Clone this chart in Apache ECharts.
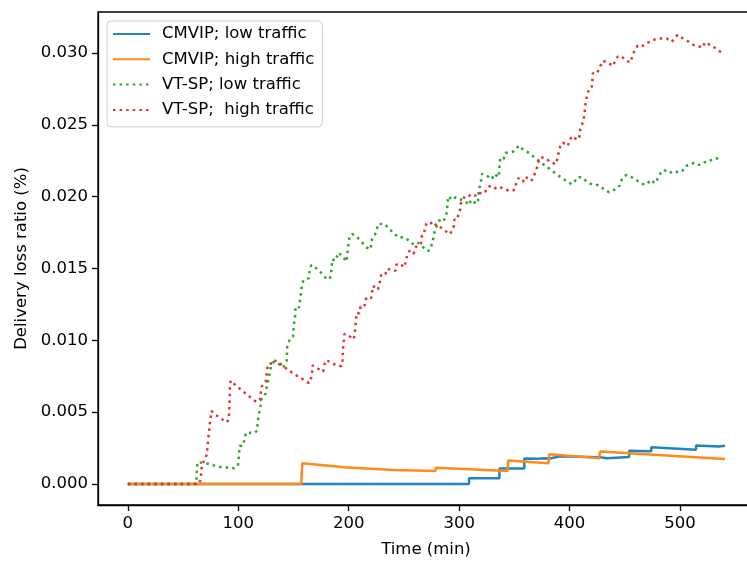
<!DOCTYPE html>
<html>
<head>
<meta charset="utf-8">
<script src="https://cdn.jsdelivr.net/npm/echarts@6/dist/echarts.min.js"></script>
<style>
  html, body { margin: 0; padding: 0; background: #fff; }
  #chart { width: 747px; height: 562px; }
</style>
</head>
<body>
<div id="chart"></div>
<script>
// [time (min), loss ratio]
const cmvipLow = [[0,0],[309,0],[309,0.0004],[336.5,0.0004],[336.5,0.00107],[359,0.00107],[359,0.00177],[372,0.00175],[377,0.00178],[382,0.00177],[382,0.0019],[392,0.00192],[427.5,0.00185],[427.5,0.00178],[434,0.00178],[434,0.0019],[454,0.00188],[454,0.0023],[474,0.00228],[474,0.00255],[514.5,0.00238],[514.5,0.00267],[535,0.0026],[536,0.00265],[540.7,0.00265]];
const cmvipHigh = [[0,0],[157,0],[158,0.00144],[196,0.00116],[240.8,0.00097],[241.3,0.00104],[278.5,0.0009],[279,0.00112],[343.9,0.0009],[344.4,0.00162],[381,0.00144],[381.5,0.00207],[427,0.00179],[427.5,0.00225],[540.7,0.00174]];
const vtspLow = [[0,0],[62,0],[63,0.0015],[66,0.00148],[72.6,0.0014],[78.7,0.00127],[84.7,0.00116],[90.7,0.00114],[96,0.00109],[99.7,0.00125],[100.4,0.0018],[101.3,0.00264],[104.6,0.00267],[105.5,0.00311],[107,0.00357],[108.8,0.00364],[114.2,0.00353],[117.2,0.00371],[117.5,0.00422],[118.7,0.00487],[120.3,0.0055],[121,0.0059],[122.7,0.00612],[124.8,0.0063],[125.7,0.00673],[127.8,0.00742],[129.9,0.00828],[132.3,0.00849],[135.9,0.0084],[140.8,0.0081],[143.8,0.00856],[144.4,0.00956],[146.7,0.01007],[149.5,0.01025],[150.4,0.01114],[151.3,0.01146],[151.9,0.01234],[154.9,0.01227],[156.4,0.01304],[157.9,0.01397],[159.4,0.0142],[164,0.01432],[164.6,0.01478],[166.1,0.01524],[167.9,0.01529],[172.1,0.01494],[176,0.01462],[179.9,0.01427],[182.9,0.01427],[184.2,0.01473],[185.1,0.01564],[188.1,0.01554],[190.5,0.0161],[194.1,0.01587],[198,0.01547],[199.2,0.01633],[200.7,0.01717],[203.2,0.0174],[207.7,0.01717],[212.2,0.0168],[216.1,0.01647],[219.7,0.01633],[221.2,0.01703],[223.6,0.01733],[225.1,0.01756],[226.5,0.01808],[229.4,0.0181],[232.4,0.0181],[236.3,0.01778],[240.8,0.01745],[245.3,0.01714],[249.8,0.01717],[254.3,0.01695],[258.9,0.01666],[261.9,0.0168],[264.4,0.01671],[267.4,0.01647],[271.9,0.01621],[274.6,0.01638],[275.5,0.01685],[277,0.01714],[277.8,0.01758],[279.4,0.01789],[281.5,0.01817],[282.8,0.01846],[286.2,0.01836],[288.3,0.0186],[289,0.01907],[289.6,0.01954],[290,0.02002],[294.1,0.01977],[297,0.01996],[300.4,0.01982],[304.7,0.01972],[309.2,0.01942],[310.7,0.01977],[315.6,0.01949],[317.1,0.01972],[317.6,0.02023],[318.5,0.02065],[319.8,0.0211],[320.7,0.02158],[325.2,0.02144],[329.7,0.02121],[331.8,0.02158],[335.7,0.02135],[336.3,0.02179],[336.6,0.02225],[337.3,0.02267],[340.3,0.02262],[341.8,0.02306],[345.7,0.02306],[348.7,0.02313],[351.7,0.0233],[353.8,0.02355],[358.3,0.02325],[362.8,0.02306],[368,0.02274],[372.2,0.0225],[377,0.0222],[381.8,0.02193],[387,0.02163],[392.1,0.02135],[396.9,0.02109],[402,0.02086],[404.5,0.02104],[407.1,0.02135],[411.1,0.02135],[415.6,0.02104],[421,0.02081],[426.1,0.02081],[431.3,0.02051],[435.8,0.0203],[439.7,0.02046],[442.7,0.02053],[445.1,0.02074],[446.4,0.02104],[448.7,0.02139],[451.8,0.02151],[456.9,0.02132],[461.7,0.02109],[466.8,0.02086],[470.4,0.02086],[472.9,0.02116],[477.7,0.02093],[480.1,0.02132],[482.5,0.02163],[485.5,0.02186],[490.3,0.02163],[494.6,0.02179],[498.8,0.02167],[502.1,0.02179],[505.1,0.02213],[508.4,0.0222],[512.9,0.02236],[517.5,0.0222],[521.1,0.02239],[524.7,0.02239],[528.7,0.02255],[532.6,0.02267],[537.7,0.02255]];
const vtspHigh = [[0,0],[64,0],[66,0.00028],[66.3,0.00067],[66.9,0.0012],[69.6,0.00174],[71.4,0.00202],[72,0.00248],[72.6,0.00295],[73.5,0.0036],[74.1,0.00411],[75,0.00457],[75.7,0.00508],[79.6,0.0048],[84.7,0.00452],[89.5,0.00429],[91.6,0.0045],[91.7,0.00496],[92,0.00543],[92.2,0.0059],[92.4,0.00636],[92.5,0.00682],[93.1,0.00719],[97.8,0.00685],[102.8,0.00654],[107.3,0.00625],[112.1,0.00596],[116.5,0.0057],[119.6,0.00585],[120.3,0.00628],[121.1,0.00675],[122.9,0.00698],[124.8,0.00711],[125.5,0.00752],[126.3,0.00805],[126.9,0.00833],[130.8,0.0084],[131.4,0.00858],[135.3,0.00856],[139.9,0.00823],[144.4,0.00798],[149.5,0.0077],[154.3,0.00747],[159.4,0.00724],[164,0.00701],[166.1,0.0074],[167,0.00787],[167.2,0.00825],[172.1,0.00803],[176.9,0.00782],[178.1,0.00833],[179.7,0.00862],[184.2,0.00844],[189.6,0.00821],[193.5,0.00821],[194.4,0.00858],[194.7,0.00905],[195,0.00951],[195.6,0.00998],[196.2,0.01044],[200.1,0.0103],[204.6,0.01007],[205.5,0.01053],[206.1,0.011],[206.7,0.01142],[206.9,0.0119],[209.8,0.01188],[210.7,0.01234],[214.3,0.01234],[215.2,0.01281],[216.7,0.013],[220.3,0.01292],[221.2,0.01336],[222.1,0.01378],[226.3,0.0135],[227.6,0.0138],[229.4,0.01455],[233.3,0.01455],[234.2,0.01494],[237.8,0.01494],[242.3,0.01483],[243,0.01524],[246.2,0.01536],[250.2,0.01508],[252,0.01555],[252.9,0.01589],[255,0.01622],[258.9,0.01601],[259.8,0.0164],[262.5,0.01664],[265.5,0.01675],[266.2,0.01724],[268.5,0.0174],[268.8,0.0178],[271,0.01821],[274.6,0.01814],[277,0.01826],[279.4,0.01796],[281.5,0.01796],[286.7,0.01765],[291.4,0.01738],[293.6,0.01763],[295.1,0.01791],[295.7,0.01838],[298.1,0.01838],[299.6,0.01884],[301.1,0.01914],[301.7,0.01961],[305.6,0.02006],[309,0.02006],[311,0.02018],[314.5,0.02006],[317.6,0.0203],[320.8,0.02018],[323.7,0.02035],[325.8,0.02065],[328.8,0.02076],[332.7,0.02058],[336.1,0.0207],[340.3,0.02053],[344.8,0.02042],[348.5,0.02042],[350.8,0.02051],[351.7,0.02097],[353.8,0.02128],[357.8,0.02104],[359.8,0.02139],[365,0.02109],[367.4,0.02128],[368.9,0.02174],[371,0.02209],[371.9,0.02248],[374,0.02274],[378.6,0.02267],[383.1,0.02236],[387.9,0.02227],[389.1,0.02271],[390.6,0.0232],[391.5,0.02348],[393.9,0.02376],[398.5,0.02353],[399.9,0.02394],[402.6,0.02422],[407.1,0.02394],[408.9,0.02417],[409.6,0.02469],[411.1,0.02499],[412.6,0.02529],[413.5,0.02575],[414.1,0.02622],[414.7,0.02668],[416.2,0.02708],[417.7,0.02754],[420.1,0.02765],[420.7,0.02812],[421,0.02858],[424,0.02854],[426.5,0.02882],[429.8,0.02944],[432,0.0294],[435.2,0.02932],[439.2,0.02909],[441.2,0.02944],[443.6,0.02974],[446.7,0.02979],[451.2,0.02946],[455.4,0.02935],[456.9,0.02984],[459.3,0.03021],[461.7,0.03051],[465.4,0.03044],[467.7,0.03058],[470.4,0.03072],[473.8,0.03079],[477.4,0.03095],[481,0.031],[484.4,0.031],[488,0.031],[492.5,0.03077],[494.9,0.03102],[497.9,0.03125],[502.4,0.03102],[506.9,0.03083],[512,0.03056],[516,0.03049],[520.5,0.03037],[522.6,0.03074],[527.1,0.03056],[532.3,0.03032],[537.1,0.03005]];

const seriesNames = ['CMVIP; low traffic', 'CMVIP; high traffic', 'VT-SP; low traffic', 'VT-SP;  high traffic'];
const xTicks = [0, 100, 200, 300, 400, 500];
const yTicks = [0, 0.005, 0.010, 0.015, 0.020, 0.025, 0.030];

const font = 'DejaVu Sans';
let myChart = echarts.init(document.getElementById('chart'));

function line(name, data, color, dotted) {
  return {
    name: name,
    type: 'line',
    data: data,
    symbol: 'none',
    showSymbol: false,
    silent: true,
    lineStyle: {
      color: color,
      width: 2.5,
      type: dotted ? [2.5, 4.1] : 'solid',
      cap: 'butt'
    },
    itemStyle: { color: color }
  };
}

myChart.setOption({
  animation: false,
  textStyle: { fontFamily: font },
  grid: {
    left: 98, right: -7, top: 12, bottom: 57,
    outerBoundsMode: 'none',
    show: true, borderColor: '#000', borderWidth: 1.3
  },
  legend: {
    orient: 'vertical',
    left: 107, top: 21,
    data: seriesNames,
    itemWidth: 37, itemHeight: 14, itemGap: 5.3,
    padding: [3, 8, 7, 5],
    itemStyle: { opacity: 0 },
    backgroundColor: 'rgba(255,255,255,0.8)',
    borderColor: '#cccccc', borderWidth: 1, borderRadius: 4,
    textStyle: { fontSize: 16.5, color: '#000', fontFamily: font, lineHeight: 20, padding: [0, 0, 0, 7] }
  },
  xAxis: {
    type: 'value',
    min: -27, max: 567,
    name: 'Time (min)',
    nameLocation: 'middle', nameGap: 36,
    nameTextStyle: { fontSize: 16.5, color: '#000', fontFamily: font },
    axisLine: { show: true, onZero: false, lineStyle: { color: '#000', width: 1.3 } },
    axisTick: { show: true, length: 6, lineStyle: { color: '#000', width: 1.3 }, customValues: xTicks },
    axisLabel: { fontSize: 16.5, color: '#000', margin: 10, fontFamily: font, customValues: xTicks },
    splitLine: { show: false }
  },
  yAxis: {
    type: 'value',
    min: -0.00147, max: 0.03285,
    name: 'Delivery loss ratio (%)',
    nameLocation: 'middle', nameGap: 67,
    nameTextStyle: { fontSize: 16.5, color: '#000', fontFamily: font },
    axisLine: { show: true, onZero: false, lineStyle: { color: '#000', width: 1.3 } },
    axisTick: { show: true, length: 6, lineStyle: { color: '#000', width: 1.3 }, customValues: yTicks },
    axisLabel: {
      fontSize: 16.5, color: '#000', margin: 10, fontFamily: font, customValues: yTicks,
      formatter: function (v) { return v.toFixed(3); }
    },
    splitLine: { show: false }
  },
  series: [
    line(seriesNames[0], cmvipLow, '#2283c0', false),
    line(seriesNames[1], cmvipHigh, '#ff8a18', false),
    line(seriesNames[2], vtspLow, '#2ca62c', true),
    line(seriesNames[3], vtspHigh, '#de3431', true)
  ]
});
</script>
</body>
</html>
